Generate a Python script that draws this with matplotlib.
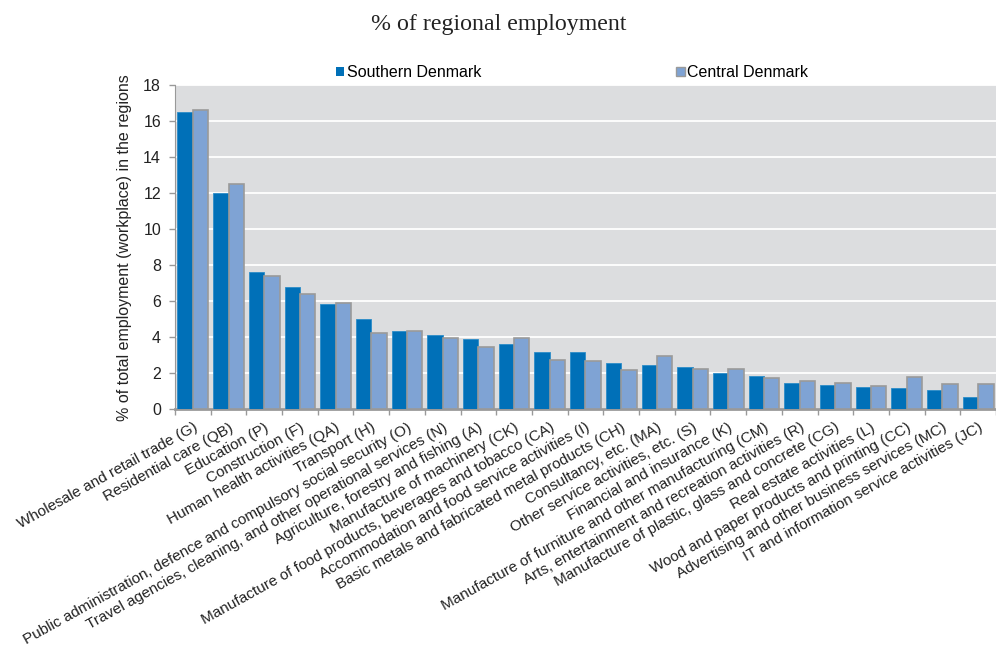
import matplotlib
matplotlib.use("Agg")
import matplotlib.pyplot as plt
import numpy as np
from matplotlib.patches import Patch

# 行業分類與兩個地區的就業比例 (%)
categories = [
    "Wholesale and retail trade (G)",
    "Residential care (QB)",
    "Education (P)",
    "Construction (F)",
    "Human health activities (QA)",
    "Transport (H)",
    "Public administration, defence and compulsory social security (O)",
    "Travel agencies, cleaning, and other operational services (N)",
    "Agriculture, forestry and fishing (A)",
    "Manufacture of machinery (CK)",
    "Manufacture of food products, beverages and tobacco (CA)",
    "Accommodation and food service activities (I)",
    "Basic metals and fabricated metal products (CH)",
    "Consultancy, etc. (MA)",
    "Other service activities, etc. (S)",
    "Financial and insurance (K)",
    "Manufacture of furniture and other manufacturing (CM)",
    "Arts, entertainment and recreation activities (R)",
    "Manufacture of plastic, glass and concrete (CG)",
    "Real estate activities (L)",
    "Wood and paper products and printing (CC)",
    "Advertising and other business services (MC)",
    "IT and information service activities (JC)",
]
southern = [16.5, 12.0, 7.6, 6.8, 5.85, 5.0, 4.35, 4.13, 3.92, 3.61, 3.18, 3.18,
            2.55, 2.46, 2.33, 2.03, 1.83, 1.46, 1.33, 1.26, 1.18, 1.09, 0.67]
central = [16.62, 12.52, 7.4, 6.39, 5.9, 4.24, 4.33, 3.98, 3.44, 3.98, 2.74, 2.67,
           2.16, 2.96, 2.24, 2.24, 1.74, 1.59, 1.46, 1.31, 1.81, 1.39, 1.39]
yticks = list(range(0, 19, 2))

plt.rcParams['font.family'] = ['Liberation Sans', 'DejaVu Sans']

fig = plt.figure(figsize=(9.96, 6.55), dpi=100)
ax = fig.add_axes([0.1757, 0.375, 0.8243, 0.495])
ax.set_facecolor('#DCDDDF')

x = np.arange(len(categories))
w = 0.43
ax.bar(x - w / 2, southern, width=w, color='#0070B8', edgecolor='#2C8CC8',
       linewidth=0.6, zorder=3)
ax.bar(x + w / 2, central, width=w, color='#7FA3D4', edgecolor='#9A9A9A',
       linewidth=1.2, zorder=3)

ax.set_xlim(-0.5, len(categories) - 0.5)
ax.set_ylim(0, 18)
ax.set_yticks(yticks)
ax.set_yticklabels([str(v) for v in yticks], fontsize=11.5, color='#222222')
ax.yaxis.grid(True, color='white', linewidth=1.3, zorder=0)
ax.set_axisbelow(True)

# x 軸刻度放在類別邊界，標籤另外放在類別中心
ax.set_xticks(np.arange(len(categories) + 1) - 0.5)
ax.set_xticklabels([])
ax.set_xticks(x, minor=True)
ax.set_xticklabels(categories, minor=True, rotation=29, ha='right', va='top',
                   rotation_mode='anchor', fontsize=11, color='#222222')
ax.tick_params(axis='x', which='minor', length=0, pad=8)
ax.tick_params(axis='x', which='major', length=4, color='#999999', width=1)
ax.tick_params(axis='y', length=4, color='#999999', width=1, pad=6)

for side in ['top', 'right']:
    ax.spines[side].set_visible(False)
ax.spines['left'].set_color('#999999')
ax.spines['bottom'].set_color('#999999')
ax.spines['bottom'].set_linewidth(2)

ax.set_ylabel('% of total employment (workplace) in the regions', fontsize=11.5,
              labelpad=8, color='#222222')

fig.text(0.501, 1 - 30 / 655, '% of regional employment', ha='center',
         va='baseline', fontsize=17.2, color='#222222',
         family=['Liberation Serif', 'DejaVu Serif'])

handles = [Patch(facecolor='#0070B8', edgecolor='none'),
           Patch(facecolor='#7FA3D4', edgecolor='#9A9A9A')]
fig.legend(handles, ['Southern Denmark', 'Central Denmark'], ncol=2,
           loc='center left', bbox_to_anchor=(0.337, 1 - 72.5 / 655),
           frameon=False, handlelength=0.55, handleheight=0.55,
           handletextpad=0.15, columnspacing=12.2, borderpad=0, borderaxespad=0,
           prop={'size': 11.5})

fig.savefig('out.png', dpi=100)
